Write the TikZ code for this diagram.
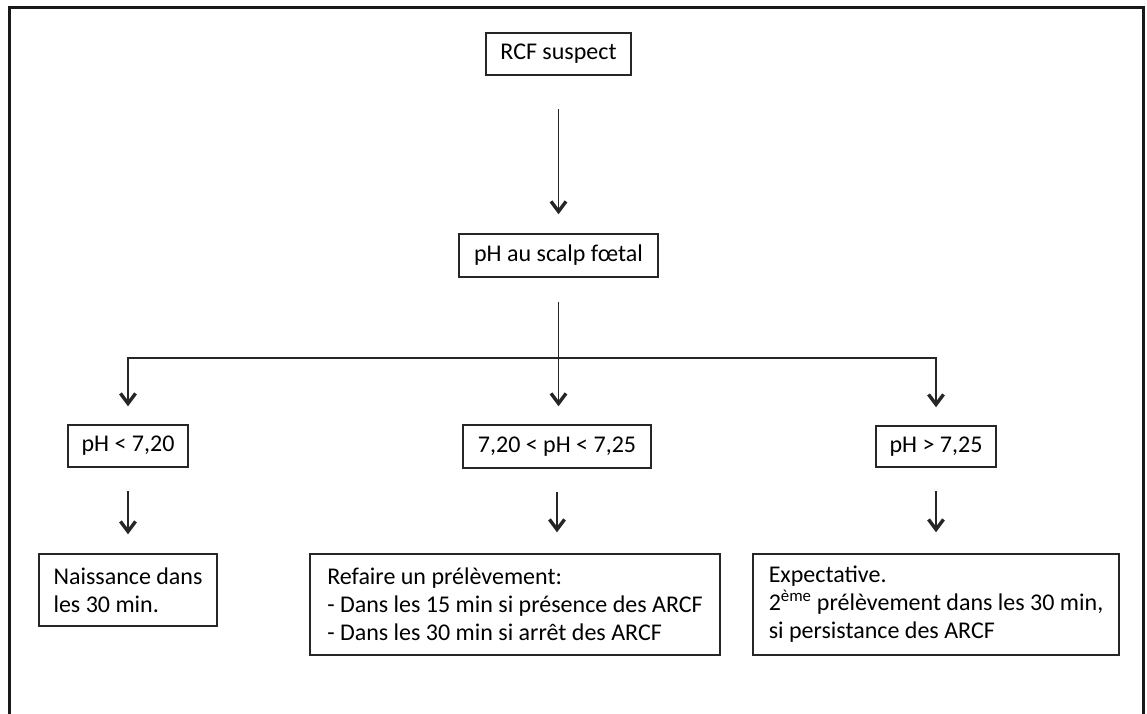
\documentclass[tikz,border=0pt]{standalone}
\usepackage{fontspec}
\setmainfont{Carlito}
\usetikzlibrary{arrows.meta}
\tikzset{
  box/.style={draw=black!85, line width=1.5pt, inner sep=0pt, align=center, font=\fontsize{24}{28}\selectfont},
  lbox/.style={box, align=left},
  conn/.style={draw=black!85, line width=1.6pt},
  arr/.style={conn, -{Straight Barb[length=10pt,width=15pt,line width=3.4pt]}},
}
\begin{document}
\begin{tikzpicture}[x=1pt,y=-1pt]
\clip (0,0) rectangle (1147,713);
\fill[white] (0,0) rectangle (1147,713);
\draw[line width=3pt, black!90] (9,7) rectangle (1143,730);

\node[box, minimum width=145pt, minimum height=42pt] (rcf) at (558.5,54) {RCF suspect};
\node[box, minimum width=199pt, minimum height=43pt] (scalp) at (558.5,255.5) {pH au scalp fœtal};
\node[box, minimum width=120pt, minimum height=42pt] (lo) at (128,446) {pH < 7,20};
\node[box, minimum width=188pt, minimum height=43pt] (mid) at (557,446.5) {7,20 < pH < 7,25};
\node[box, minimum width=120pt, minimum height=41pt] (hi) at (936,446.5) {pH > 7,25};

\node[lbox, minimum width=178pt, minimum height=72pt] (naiss) at (128,590) {Naissance dans\\les 30 min.};
\node[lbox, minimum width=410pt, minimum height=101pt] (refaire) at (515,604.5) {Refaire un prélèvement:\\- Dans les 15 min si présence des ARCF\\- Dans les 30 min si arrêt des ARCF};
\node[lbox, minimum width=366pt, minimum height=101pt] (expect) at (936,604.5) {Expectative.\\2\textsuperscript{ème} prélèvement dans les 30 min,\\si persistance des ARCF};

\coordinate (split) at (558.5,358);

\draw[arr, shorten <=33pt, shorten >=19pt] (rcf) -- (scalp);
\draw[conn, shorten <=24pt] (scalp.south) -- (split);
\draw[arr, shorten >=18pt] (split) -| (lo.north);
\draw[arr, shorten >=18pt] (split) -| (hi.north);
\draw[arr, shorten >=18pt] (split) -- (split |- mid.north);

\draw[arr, shorten <=23pt, shorten >=19pt] (lo.south) -- (naiss.north);
\draw[arr, shorten <=23pt, shorten >=21pt] (mid.south) -- (mid.south |- refaire.north);
\draw[arr, shorten <=23pt, shorten >=21pt] (hi.south) -- (expect.north -| hi.south);
\end{tikzpicture}
\end{document}
